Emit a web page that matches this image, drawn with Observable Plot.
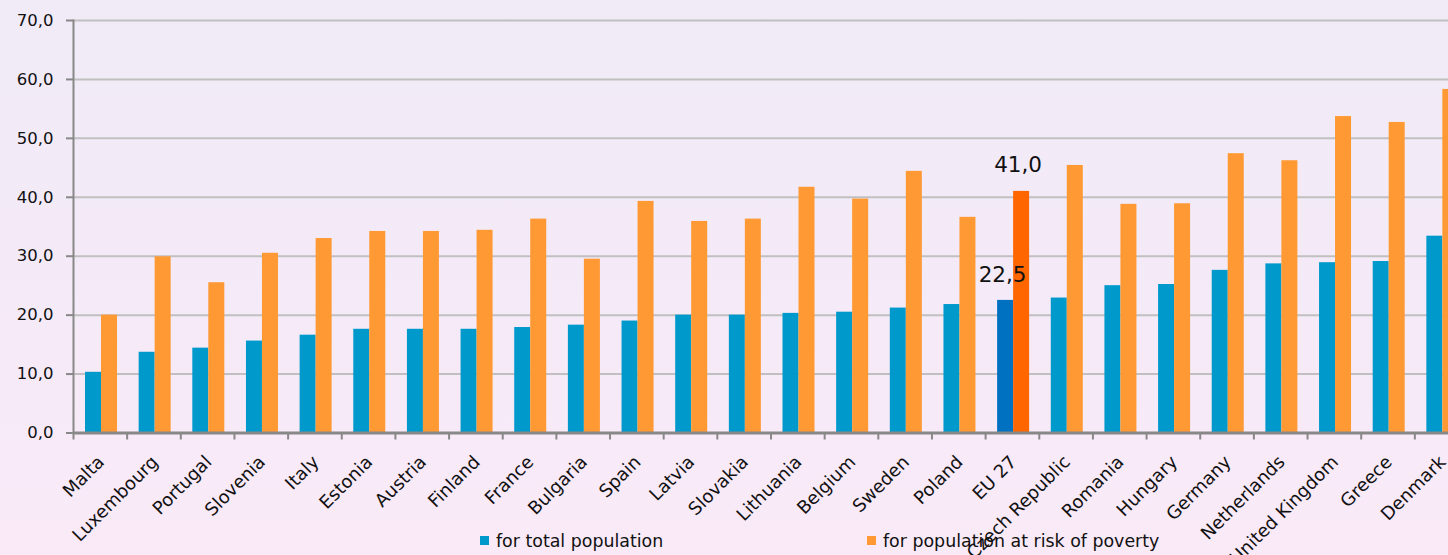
<!DOCTYPE html>
<html>
<head>
<meta charset="utf-8">
<script src="https://cdn.jsdelivr.net/npm/d3@7"></script>
<script src="https://cdn.jsdelivr.net/npm/@observablehq/plot@0.6"></script>
<style>
  html, body { margin: 0; padding: 0; width: 1448px; height: 555px; overflow: hidden; }
  body { position: relative; background: linear-gradient(to bottom, #f0ebf7 0%, #f5eaf7 55%, #faeaf8 100%); font-family: "DejaVu Sans", sans-serif; }
  #chart svg { display: block; }
  #legend { position: absolute; left: 0; top: 0; width: 1448px; height: 555px; font-size: 17.4px; color: #111; pointer-events: none; }
  .sw { position: absolute; top: 536px; width: 9px; height: 9px; }
  .lt { position: absolute; top: 531px; line-height: 20px; white-space: nowrap; }
</style>
</head>
<body>
<div id="chart"></div>
<div id="legend"></div>
<script>
const countries = ["Malta","Luxembourg","Portugal","Slovenia","Italy","Estonia","Austria","Finland","France","Bulgaria","Spain","Latvia","Slovakia","Lithuania","Belgium","Sweden","Poland","EU 27","Czech Republic","Romania","Hungary","Germany","Netherlands","United Kingdom","Greece","Denmark"];
const totalPopulation = [10.3,13.7,14.4,15.6,16.6,17.6,17.6,17.6,17.9,18.3,19.0,20.0,20.0,20.3,20.5,21.2,21.8,22.5,22.9,25.0,25.2,27.6,28.7,28.9,29.1,33.4];
const riskOfPoverty = [20.0,29.9,25.5,30.5,33.0,34.2,34.2,34.4,36.3,29.5,39.3,35.9,36.3,41.7,39.7,44.4,36.6,41.0,45.4,38.8,38.9,47.4,46.2,53.7,52.7,58.3];
const seriesNames = ["for total population", "for population at risk of poverty"];
const highlighted = "EU 27";
const yTicks = [0,10,20,30,40,50,60,70];

const colors = {total: "#0099cc", risk: "#ff9933", totalHi: "#0070c0", riskHi: "#ff6600"};

const rows = countries.map((c, i) => ({country: c, total: totalPopulation[i], risk: riskOfPoverty[i]}));
const hiRows = rows.filter(d => d.country === highlighted);
const fmt = d => d.toFixed(1).replace(".", ",");

const W = 1448, H = 555;
const xRange = [73, 1468];
const step = (xRange[1] - xRange[0]) / countries.length;

const plot = Plot.plot({
  width: W, height: H,
  marginLeft: 73, marginRight: 0, marginTop: 20, marginBottom: 122.5,
  x: {domain: countries, range: xRange, padding: 0, round: false},
  y: {domain: [0, 70]},
  color: {type: "identity"},
  style: {background: "transparent", fontFamily: "DejaVu Sans, sans-serif", color: "#111"},
  marks: [
    Plot.gridY(yTicks, {stroke: "#c0c0c0", strokeOpacity: 1, strokeWidth: 2}),
    Plot.barY(rows, {x: "country", y: "total", fill: d => d.country === highlighted ? colors.totalHi : colors.total, insetLeft: 12, insetRight: step - 28}),
    Plot.barY(rows, {x: "country", y: "risk", fill: d => d.country === highlighted ? colors.riskHi : colors.risk, insetLeft: 28, insetRight: step - 44}),
    Plot.ruleY([0], {stroke: "#888", strokeWidth: 3}),
    Plot.frame({anchor: "left", stroke: "#888", strokeWidth: 2}),
    Plot.axisY(yTicks, {tickFormat: fmt, tickSize: 7, tickPadding: 13, fontSize: 16.5, stroke: "#888", strokeWidth: 2, label: null}),
    Plot.axisX({tickSize: 7, tickFormat: () => "", dx: -step / 2, stroke: "#888", strokeWidth: 2, label: null}),
    Plot.axisX({tickSize: 0, tickRotate: -45, tickPadding: 26, fontSize: 18, dx: 1, label: null}),
    Plot.text(hiRows, {x: "country", y: "total", text: d => fmt(d.total), dx: 17 - step / 2, dy: -18, lineAnchor: "bottom", fontSize: 21.5, fill: "#111"}),
    Plot.text(hiRows, {x: "country", y: "risk", text: d => fmt(d.risk), dx: 32.5 - step / 2, dy: -19, lineAnchor: "bottom", fontSize: 21.5, fill: "#111"})
  ]
});
document.getElementById("chart").appendChild(plot);

const legend = document.getElementById("legend");
const items = [
  {name: seriesNames[0], color: colors.total, left: 480},
  {name: seriesNames[1], color: colors.risk, left: 867}
];
for (const it of items) {
  const sw = document.createElement("div");
  sw.className = "sw"; sw.style.left = it.left + "px"; sw.style.background = it.color;
  const t = document.createElement("div");
  t.className = "lt"; t.style.left = (it.left + 16) + "px"; t.textContent = it.name;
  legend.appendChild(sw); legend.appendChild(t);
}
</script>
</body>
</html>
